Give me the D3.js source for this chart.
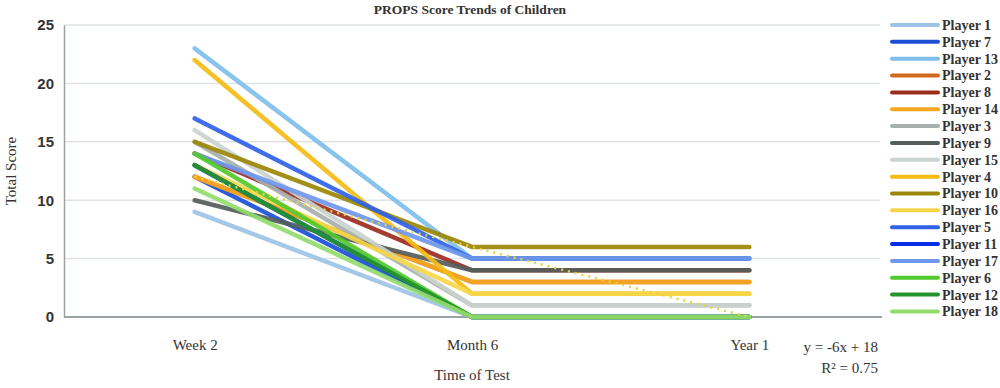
<!DOCTYPE html>
<html>
<head>
<meta charset="utf-8">
<script src="https://cdn.jsdelivr.net/npm/d3@7/dist/d3.min.js"></script>
<style>
  body { margin: 0; background: #fff; }
  text { font-family: "Liberation Serif", "DejaVu Serif", serif; fill: #333; }
</style>
</head>
<body>
<div id="chart"></div>
<script>
'use strict';

// data
var categories = ['Week 2', 'Month 6', 'Year 1'];
var players = ['Player 1', 'Player 7', 'Player 13', 'Player 2', 'Player 8', 'Player 14',
  'Player 3', 'Player 9', 'Player 15', 'Player 4', 'Player 10', 'Player 16',
  'Player 5', 'Player 11', 'Player 17', 'Player 6', 'Player 12', 'Player 18'];
var scores = [
  [9, 0, 0],    // Player 1
  [12, 0, 0],   // Player 7
  [23, 5, 5],   // Player 13
  [12, 3, 3],   // Player 2
  [14, 4, 4],   // Player 8
  [12, 3, 3],   // Player 14
  [15, 1, 1],   // Player 3
  [10, 4, 4],   // Player 9
  [16, 1, 1],   // Player 15
  [22, 2, 2],   // Player 4
  [15, 6, 6],   // Player 10
  [13, 2, 2],   // Player 16
  [17, 5, 5],   // Player 5
  [13, 0, 0],   // Player 11
  [14, 5, 5],   // Player 17
  [14, 0, 0],   // Player 6
  [13, 0, 0],   // Player 12
  [11, 0, 0]    // Player 18
];
var colors = ['#9dc3e6', '#1c4fd6', '#7fbfea', '#d2691e', '#9b2d1f', '#f5a623',
  '#a7b0ad', '#555d5c', '#c9d3cf', '#f4bc14', '#9a8708', '#f7d64a',
  '#2f62e6', '#0a2ee8', '#6f97ec', '#52c92c', '#24952a', '#93dc6c'];
var trend = [12, 6, 0];
var yTicks = [0, 5, 10, 15, 20, 25];

var width = 1000,
    height = 388,
    margin = { top: 25, right: 112, bottom: 71, left: 64 };

var svg = d3.select('#chart').append('svg')
    .attr('width', width)
    .attr('height', height);

var x = d3.scalePoint()
    .domain(categories)
    .range([margin.left - 8, width - margin.right])
    .padding(0.5);

var y = d3.scaleLinear()
    .domain([0, 25])
    .range([height - margin.bottom, margin.top]);

// title
svg.append('text')
    .attr('x', 470).attr('y', 14)
    .attr('text-anchor', 'middle')
    .style('font-size', '13.5px')
    .style('font-weight', 'bold')
    .attr('fill', '#444')
    .text('PROPS Score Trends of Children');

// gridlines
svg.append('g').selectAll('line')
    .data(yTicks.filter(function(d) { return d > 0; }))
  .enter().append('line')
    .attr('x1', margin.left).attr('x2', 880)
    .attr('y1', function(d) { return y(d); })
    .attr('y2', function(d) { return y(d); })
    .attr('stroke', '#dfe3e3')
    .attr('stroke-width', 1.5);

// y axis
var yAxis = svg.append('g')
    .attr('transform', 'translate(' + margin.left + ',0)')
    .call(d3.axisLeft(y).tickValues(yTicks).tickSize(0).tickPadding(10));
yAxis.select('.domain').attr('stroke', '#9aa3a3').attr('stroke-width', 1.5);
yAxis.selectAll('text')
    .style('font-size', '15px')
    .style('font-weight', 'bold')
    .style('font-family', '"Liberation Sans", sans-serif')
    .attr('fill', '#444');

// x axis
var xAxis = svg.append('g')
    .attr('transform', 'translate(0,' + y(0) + ')')
    .call(d3.axisBottom(x).tickSize(0).tickPadding(22));
xAxis.select('.domain')
    .attr('d', 'M' + margin.left + ',0H882')
    .attr('stroke', '#9aa3a3').attr('stroke-width', 2);
xAxis.selectAll('text').style('font-size', '15px').attr('fill', '#333');

// axis titles
svg.append('text')
    .attr('transform', 'translate(16,' + ((margin.top + y(0)) / 2) + ') rotate(-90)')
    .attr('text-anchor', 'middle')
    .style('font-size', '15px')
    .text('Total Score');

svg.append('text')
    .attr('x', x('Month 6')).attr('y', 380)
    .attr('text-anchor', 'middle')
    .style('font-size', '15px')
    .text('Time of Test');

// player lines
var line = d3.line()
    .x(function(d, i) { return x(categories[i]); })
    .y(function(d) { return y(d); });

svg.append('g').selectAll('path')
    .data(scores)
  .enter().append('path')
    .attr('d', line)
    .attr('fill', 'none')
    .attr('stroke', function(d, i) { return colors[i]; })
    .attr('stroke-width', 4.5)
    .attr('stroke-linecap', 'round')
    .attr('stroke-linejoin', 'round')
    .attr('opacity', 0.92);

// linear trendline
svg.append('path')
    .datum(trend)
    .attr('d', line)
    .attr('fill', 'none')
    .attr('stroke', '#e8d23a')
    .attr('stroke-width', 2.5)
    .attr('stroke-dasharray', '2,5');

// trend equation
svg.append('text')
    .attr('x', 878).attr('y', 352)
    .attr('text-anchor', 'end')
    .style('font-size', '15px')
    .text('y = -6x + 18');
svg.append('text')
    .attr('x', 878).attr('y', 373)
    .attr('text-anchor', 'end')
    .style('font-size', '15px')
    .text('R\u00b2 = 0.75');

// legend
var legend = svg.append('g').selectAll('g')
    .data(players)
  .enter().append('g')
    .attr('transform', function(d, i) { return 'translate(892,' + (25 + i * 16.85) + ')'; });

legend.append('line')
    .attr('x1', 0).attr('x2', 46)
    .attr('stroke', function(d, i) { return colors[i]; })
    .attr('stroke-width', 4)
    .attr('stroke-linecap', 'round');

legend.append('text')
    .attr('x', 50).attr('dy', '0.35em')
    .style('font-size', '14px')
    .style('font-weight', 'bold')
    .attr('fill', '#444')
    .text(function(d) { return d; });
</script>
</body>
</html>
